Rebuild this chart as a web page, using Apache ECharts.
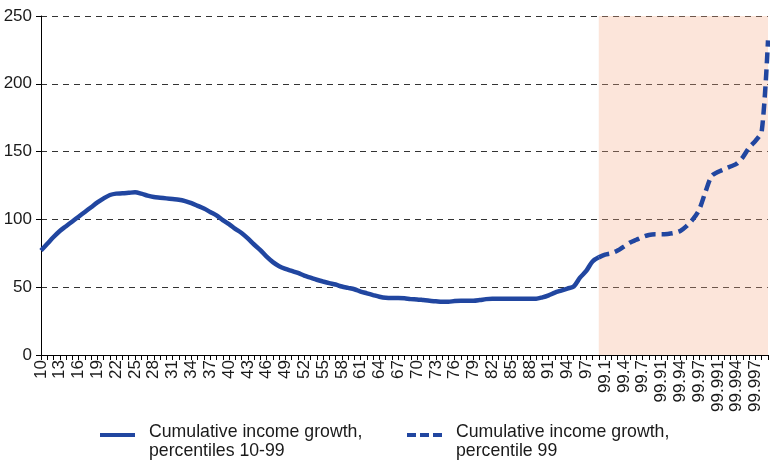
<!DOCTYPE html>
<html><head><meta charset="utf-8">
<script src="https://cdn.jsdelivr.net/npm/echarts@6/dist/echarts.min.js"></script>
<style>html,body{margin:0;padding:0;background:#fff}#c{width:770px;height:462px}</style>
</head><body><div id="c"></div>
<script>
var categories = ['10','11','12','13','14','15','16','17','18','19','20','21','22','23','24','25','26','27','28','29',
'30','31','32','33','34','35','36','37','38','39','40','41','42','43','44','45','46','47','48','49',
'50','51','52','53','54','55','56','57','58','59','60','61','62','63','64','65','66','67','68','69',
'70','71','72','73','74','75','76','77','78','79','80','81','82','83','84','85','86','87','88','89',
'90','91','92','93','94','95','96','97','98','99',
'99.1','99.2','99.3','99.4','99.5','99.6','99.7','99.8','99.9',
'99.91','99.92','99.93','99.94','99.95','99.96','99.97','99.98','99.99',
'99.991','99.992','99.993','99.994','99.995','99.996','99.997','99.998','99.999'];

// percentiles 10-99 (solid)
var growthP10to99 = [77,82,87,91.5,95,98.5,102,105.5,109,112.5,115.5,118,119,119.2,119.6,120,119,117.5,116.5,116,
115.5,115,114.5,113.5,112,110,108,105.5,103,99.5,96.5,93,90,86,81.5,77.4,72.5,68.5,65.5,63.5,
62,60.5,58.5,57,55.5,54.2,53,52,50.5,49.5,48.5,46.8,45.5,44.2,43,42.2,42,42,41.8,41.2,
41,40.5,40,39.6,39.2,39.2,39.8,40,40,40,40.5,41.2,41.5,41.5,41.5,41.5,41.5,41.5,41.5,41.5,
42.5,44,46,47.5,49,50.5,57,62,69,72];
// percentile 99 (dashed), starting at category '99'
var growthP99 = [72,74,75,77,80,83,85,87,88.5,89,89,89.3,90,91.5,95,100,107,120,132,135,137,139,141,146,153,158,165,232];

var yTicks = {min:0, max:250, interval:50};

var solidData = categories.map(function(c,i){ return i < growthP10to99.length ? growthP10to99[i] : null; });
var startIdx = categories.indexOf('99');
var dashData = categories.map(function(c,i){ return i >= startIdx ? growthP99[i-startIdx] : null; });

var FONT = '"Liberation Sans",Arial,sans-serif';
var BLUE = '#2146A0';
var legendText = {fontFamily:FONT, fontSize:17.7, color:'#1a1a1a', lineHeight:19, padding:[0,0,0,9]};
var chart = echarts.init(document.getElementById('c'), null, {renderer:'canvas'});
chart.setOption({
  animation:false,
  grid:{left:41, right:2, top:16, bottom:107, containLabel:false},
  xAxis:{type:'category', data:categories, boundaryGap:false,
    axisLine:{lineStyle:{color:'#000', width:1}},
    axisTick:{show:true, interval:0, length:5, lineStyle:{color:'#000'}},
    axisLabel:{interval:2, rotate:90, margin:5, color:'#1a1a1a', fontFamily:FONT, fontSize:17,
      hideOverlap:false, showMinLabel:true},
    splitLine:{show:false}},
  yAxis:{type:'value', min:yTicks.min, max:yTicks.max, interval:yTicks.interval,
    axisLine:{show:true, lineStyle:{color:'#000'}},
    axisTick:{show:true, length:5, lineStyle:{color:'#000'}},
    axisLabel:{color:'#1a1a1a', fontFamily:FONT, fontSize:17, margin:9},
    splitLine:{show:true, lineStyle:{color:'#333', type:[6,5], width:1}}},
  legend:[
    {left:95, top:418, data:[{name:'Cumulative income growth, percentiles 10-99',
       icon:'path://M0,0h35v4h-35z M0,18'}],
     itemWidth:35, itemHeight:18,
     formatter:function(n){return n.replace(', ', ',\n');},
     textStyle:legendText},
    {left:402, top:418, data:[{name:'Cumulative income growth, percentile 99',
       icon:'path://M0,0h9v4h-9z M13,0h9v4h-9z M26,0h9v4h-9z M0,18'}],
     itemWidth:35, itemHeight:18,
     formatter:function(n){return n.replace(', ', ',\n');},
     textStyle:legendText}
  ],
  series:[
    {name:'Cumulative income growth, percentiles 10-99', type:'line', data:solidData, showSymbol:false,
     smooth:0.3, connectNulls:false, lineStyle:{color:BLUE, width:4.5}, itemStyle:{color:BLUE},
     markArea:{silent:true, itemStyle:{color:'rgba(245,168,132,0.3)'},
       data:[[{xAxis:'99'},{xAxis:'99.999'}]]}},
    {name:'Cumulative income growth, percentile 99', type:'line', data:dashData, showSymbol:false,
     smooth:0.3, lineStyle:{color:BLUE, width:4.5, type:[11,6]}, itemStyle:{color:BLUE}}
  ]
});
</script></body></html>
